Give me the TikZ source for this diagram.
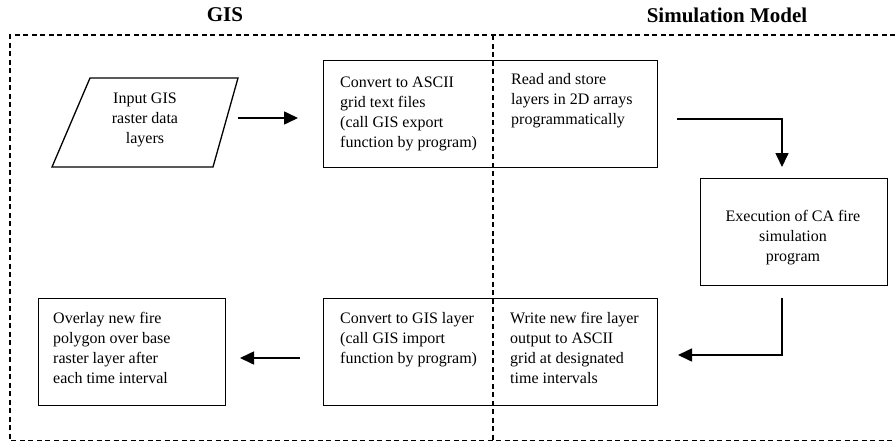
\documentclass[tikz,border=0pt]{standalone}
\usepackage{fontspec}
\setmainfont{Liberation Serif}
\usetikzlibrary{arrows.meta}
\begin{document}
\begin{tikzpicture}[x=1pt,y=-1pt,
  every node/.style={font=\fontsize{16}{20}\selectfont, inner sep=0pt},
  boxline/.style={draw, line width=1.3pt, anchor=north west},
  frameline/.style={line width=1.1pt, dash pattern=on 5pt off 3.5pt},
  flow/.style={line width=1.6pt, -{Triangle[length=14pt,width=13pt]}},
  title/.style={font=\fontsize{21}{25}\selectfont\bfseries},
  lefttext/.style={anchor=north west, align=left},
  midtext/.style={align=center}]
\useasboundingbox (0,0) rectangle (895,442);

% column titles
\node[title] (gis) at (225,15) {GIS};
\node[title] (sim) at (727,15) {Simulation Model};

% boxes
\node[boxline, minimum width=334pt, minimum height=107pt] (toprow) at (323,60) {};
\node[boxline, minimum width=187pt, minimum height=107pt] (ca) at (700,178) {};
\node[boxline, minimum width=334pt, minimum height=107pt] (botrow) at (323,298) {};
\node[boxline, minimum width=187pt, minimum height=107pt] (overlay) at (38,298) {};

% input parallelogram
\coordinate (p1) at (90,78);
\coordinate (p2) at (238,78);
\coordinate (p3) at (213,167);
\coordinate (p4) at (52,167);
\draw[line width=1.3pt, line join=miter] (p1) -- (p2) -- (p3) -- (p4) -- cycle;
\node[midtext] (input) at (145,120) {Input GIS\\raster data\\layers};

% box texts (a strut fixes the first line's height, so the top edge is 14pt above its baseline)
\node[lefttext] (ascii) at (340,73) {\strut Convert to ASCII\\grid text files\\(call GIS export\\function by program)};
\node[lefttext] (arrays) at (511,70) {\strut Read and store\\layers in 2D arrays\\programmatically};
\node[midtext] (exec) at (793,238) {Execution of CA fire\\simulation\\program};
\node[lefttext] (write) at (510,309) {\strut Write new fire layer\\output to ASCII\\grid at designated\\time intervals};
\node[lefttext] (togis) at (340,309) {\strut Convert to GIS layer\\(call GIS import\\function by program)};
\node[lefttext] (over) at (53,309) {\strut Overlay new fire\\polygon over base\\raster layer after\\each time interval};

% connector ends
\coordinate (a1s) at (238,118);
\coordinate (a1e) at (298,118);
\coordinate (a2s) at (677,119);
\coordinate (a2e) at (782,167);
\coordinate (a3s) at (782,298);
\coordinate (a3e) at (678,355);
\coordinate (a4s) at (300,358);
\coordinate (a4e) at (240,358);

\draw[flow] (a1s) -- (a1e);
\draw[flow] (a2s) -| (a2e);
\draw[flow] (a3s) |- (a3e);
\draw[flow] (a4s) -- (a4e);

% dashed frame and divider
\draw[frameline] (895,35) -- (10,35) -- (10,440.5) -- (895,440.5);
\draw[frameline] (493,35) -- (493,440.5);
\end{tikzpicture}
\end{document}
